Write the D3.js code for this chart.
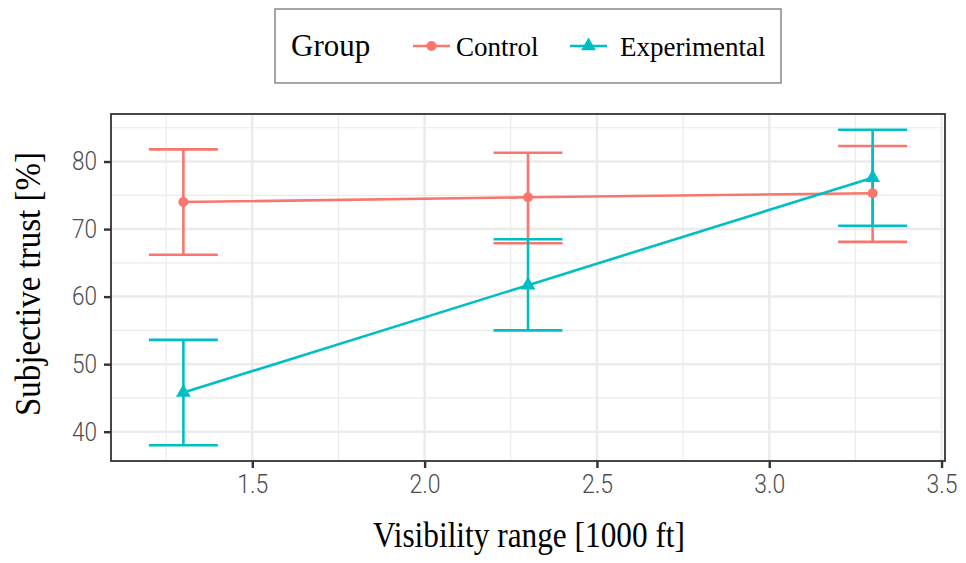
<!DOCTYPE html>
<html><head><meta charset="utf-8">
<script src="https://cdn.jsdelivr.net/npm/d3@7"></script>
<style>body{margin:0;background:#fff}</style>
</head><body>
<script>
const categories = [1.3, 2.3, 3.3];
const groups = ["Control", "Experimental"];
const controlMean = [74.0, 74.7, 75.3];
const controlLow = [66.2, 67.9, 68.1];
const controlHigh = [81.8, 81.3, 82.3];
const expMean = [45.8, 61.7, 77.6];
const expLow = [38.0, 55.0, 70.5];
const expHigh = [53.6, 68.5, 84.7];
const xTicks = [1.5, 2.0, 2.5, 3.0, 3.5];
const xMinor = [1.25, 1.75, 2.25, 2.75, 3.25];
const yTicks = [40, 50, 60, 70, 80];
const yMinor = [45, 55, 65, 75, 85];
const colors = ["#F8766D", "#00BFC4"];

const W = 966, H = 563;
const L = 111, R = 945, T = 114, B = 461;
const svg = d3.select("body").append("svg").attr("width", W).attr("height", H);

const x = d3.scaleLinear().domain([1.09, 3.51]).range([L, R]);
const y = d3.scaleLinear().domain([35.665, 87.035]).range([B, T]);

const serif = "'Liberation Serif', serif";
const tickFont = "Roboto, 'DejaVu Sans', sans-serif";

// grid
const g = svg.append("g");
g.selectAll(".xm").data(xMinor).join("line").attr("x1", d => x(d)).attr("x2", d => x(d)).attr("y1", T).attr("y2", B).attr("stroke", "#EBEBEB").attr("stroke-width", 1.2);
g.selectAll(".ym").data(yMinor).join("line").attr("y1", d => y(d)).attr("y2", d => y(d)).attr("x1", L).attr("x2", R).attr("stroke", "#EBEBEB").attr("stroke-width", 1.2);
g.selectAll(".xM").data(xTicks).join("line").attr("x1", d => x(d)).attr("x2", d => x(d)).attr("y1", T).attr("y2", B).attr("stroke", "#EBEBEB").attr("stroke-width", 2.5);
g.selectAll(".yM").data(yTicks).join("line").attr("y1", d => y(d)).attr("y2", d => y(d)).attr("x1", L).attr("x2", R).attr("stroke", "#EBEBEB").attr("stroke-width", 2.5);

const series = [
  {name: groups[0], mean: controlMean, low: controlLow, high: controlHigh, color: colors[0], shape: "circle"},
  {name: groups[1], mean: expMean, low: expLow, high: expHigh, color: colors[1], shape: "triangle"}
];
const LW = 2.6;

// error bars
series.forEach(s => {
  const eg = svg.append("g").attr("stroke", s.color).attr("stroke-width", LW).attr("fill", "none");
  categories.forEach((c, i) => {
    eg.append("line").attr("x1", x(c)).attr("x2", x(c)).attr("y1", y(s.low[i])).attr("y2", y(s.high[i]));
    eg.append("line").attr("x1", x(c - 0.1)).attr("x2", x(c + 0.1)).attr("y1", y(s.low[i])).attr("y2", y(s.low[i]));
    eg.append("line").attr("x1", x(c - 0.1)).attr("x2", x(c + 0.1)).attr("y1", y(s.high[i])).attr("y2", y(s.high[i]));
  });
});
// lines
const line = d3.line().x((d, i) => x(categories[i])).y(d => y(d));
series.forEach(s => {
  svg.append("path").attr("d", line(s.mean)).attr("fill", "none").attr("stroke", s.color).attr("stroke-width", LW);
});
// points
const circ = d3.symbol().type(d3.symbolCircle).size(78);
const tri = d3.symbol().type(d3.symbolTriangle).size(95);
series.forEach(s => {
  svg.append("g").selectAll("path").data(s.mean).join("path")
    .attr("d", s.shape === "circle" ? circ : tri)
    .attr("transform", (d, i) => `translate(${x(categories[i])},${y(d)})`)
    .attr("fill", s.color);
});

// border
svg.append("rect").attr("x", L).attr("y", T).attr("width", R - L).attr("height", B - T).attr("fill", "none").attr("stroke", "#333333").attr("stroke-width", 1.8);

// axes
const xa = svg.append("g").attr("transform", `translate(0,${B})`).call(d3.axisBottom(x).tickValues(xTicks).tickFormat(d3.format(".1f")).tickSize(7).tickPadding(7));
const ya = svg.append("g").attr("transform", `translate(${L},0)`).call(d3.axisLeft(y).tickValues(yTicks).tickFormat(d3.format("d")).tickSize(7).tickPadding(7));
[xa, ya].forEach(a => {
  a.select(".domain").remove();
  a.selectAll(".tick line").attr("stroke", "#333333").attr("stroke-width", 2.4);
  a.selectAll(".tick text").attr("fill", "#4D4D4D").style("font-family", tickFont).style("font-weight", 300).style("font-size", "26px")
    .attr("textLength", function() { return this.textContent.length === 3 ? 31 : 25; })
    .attr("lengthAdjust", "spacingAndGlyphs");
});

// axis titles
svg.append("text").attr("x", 529).attr("y", 547).attr("text-anchor", "middle")
  .attr("textLength", 312).attr("lengthAdjust", "spacingAndGlyphs")
  .style("font-family", serif).style("font-size", "36px").attr("fill", "#000").text("Visibility range [1000 ft]");
svg.append("text").attr("transform", `translate(40,284) rotate(-90)`).attr("text-anchor", "middle")
  .attr("textLength", 264).attr("lengthAdjust", "spacingAndGlyphs")
  .style("font-family", serif).style("font-size", "35px").attr("fill", "#000").text("Subjective trust [%]");

// legend
const lg = svg.append("g");
lg.append("rect").attr("x", 275).attr("y", 9).attr("width", 506).attr("height", 74).attr("fill", "#fff").attr("stroke", "#7F7F7F").attr("stroke-width", 1.4);
lg.append("text").attr("x", 291).attr("y", 56).style("font-family", serif).style("font-size", "31px").text("Group");
const keys = [{x0: 413, tx: 456}, {x0: 570, tx: 620}];
series.forEach((s, i) => {
  const k = keys[i];
  const len = 37;
  lg.append("line").attr("x1", k.x0).attr("x2", k.x0 + len).attr("y1", 46).attr("y2", 46).attr("stroke", s.color).attr("stroke-width", LW);
  lg.append("path").attr("d", s.shape === "circle" ? circ() : tri()).attr("transform", `translate(${k.x0 + len / 2},46)`).attr("fill", s.color);
  lg.append("text").attr("x", k.tx).attr("y", 56).style("font-family", serif).style("font-size", "27px").text(s.name);
});
</script>
</body></html>
